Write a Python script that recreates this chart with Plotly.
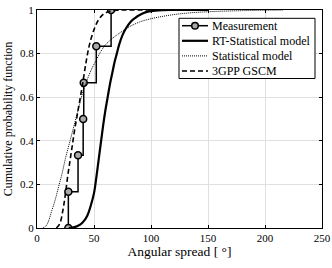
import plotly.graph_objects as go

# Measurement (empirical CDF, stairs)
meas_x = [27.5, 27.5, 36, 40.5, 41, 52, 65]
meas_y = [0, 1/6, 2/6, 3/6, 4/6, 5/6, 1.0]

# RT-Statistical model
rt_x = [28, 32, 36, 40, 44, 47, 50, 52, 54, 56, 58, 60, 62, 64, 66, 68, 70, 72, 75, 78, 82, 86, 90, 95, 100, 110, 120, 150]
rt_y = [0, 0.003, 0.01, 0.025, 0.055, 0.1, 0.16, 0.23, 0.31, 0.39, 0.47, 0.54, 0.6, 0.66, 0.71, 0.76, 0.8, 0.84, 0.885, 0.915, 0.945, 0.963, 0.977, 0.989, 0.995, 0.999, 1.0, 1.0]

# Statistical model
st_x = [5, 8, 10, 13, 16, 19, 22, 25, 28, 31, 34, 37, 40, 44, 48, 52, 56, 60, 65, 70, 80, 90, 100, 115, 130, 150, 180, 216]
st_y = [0, 0.01, 0.03, 0.08, 0.13, 0.19, 0.25, 0.32, 0.38, 0.44, 0.5, 0.56, 0.62, 0.68, 0.73, 0.77, 0.81, 0.84, 0.865, 0.885, 0.92, 0.945, 0.96, 0.975, 0.985, 0.992, 0.997, 1.0]

# 3GPP GSCM
gp_x = [17, 20, 23, 25, 27, 29, 31, 33, 35, 37, 40, 43, 46, 50, 54, 58, 63, 70, 80, 100]
gp_y = [0, 0.02, 0.09, 0.16, 0.24, 0.31, 0.38, 0.45, 0.51, 0.57, 0.66, 0.76, 0.84, 0.91, 0.955, 0.98, 0.993, 0.999, 1.0, 1.0]

series_names = ["Measurement", "RT-Statistical model", "Statistical model", "3GPP GSCM"]

x_ticks = [0, 50, 100, 150, 200, 250]
y_ticks = [0, 0.2, 0.4, 0.6, 0.8, 1]
y_tick_text = ["0", "0.2", "0.4", "0.6", "0.8", "1"]

FONT = "Liberation Serif, Times New Roman, Tinos, DejaVu Serif, serif"
W, H = 332, 268
ML, MR, MT, MB = 37, 10, 10, 40
PW, PH = W - ML - MR, H - MT - MB

styles = [
    dict(color="black", width=1.5),
    dict(color="black", width=2.2),
    dict(color="black", width=1, dash="1px,1px"),
    dict(color="black", width=1.6, dash="5px,3px"),
]
marker_style = dict(symbol="circle", size=7, color="#a8a8a8", line=dict(color="black", width=1.5))

fig = go.Figure()
fig.add_trace(go.Scatter(x=meas_x, y=meas_y, mode="lines+markers", name=series_names[0],
                         line=dict(**styles[0], shape="hv"), marker=marker_style, showlegend=False))
fig.add_trace(go.Scatter(x=rt_x, y=rt_y, mode="lines", name=series_names[1],
                         line=dict(**styles[1], shape="spline"), showlegend=False))
fig.add_trace(go.Scatter(x=st_x, y=st_y, mode="lines", name=series_names[2],
                         line=dict(**styles[2], shape="spline"), showlegend=False))
fig.add_trace(go.Scatter(x=gp_x, y=gp_y, mode="lines", name=series_names[3],
                         line=dict(**styles[3], shape="spline"), showlegend=False))

axis_common = dict(showline=True, linecolor="black", linewidth=1, mirror="ticks",
                   ticks="inside", ticklen=3, tickcolor="black", showgrid=True,
                   gridcolor="#e0e0e0", gridwidth=1, zeroline=False,
                   tickfont=dict(family=FONT, size=11, color="black"))

fig.update_xaxes(range=[0, 250], tickvals=x_ticks, ticktext=[str(v) for v in x_ticks],
                 title=dict(text="Angular spread [ °]", font=dict(family=FONT, size=13.5, color="black"),
                            standoff=0),
                 **axis_common)
fig.update_yaxes(range=[0, 1], tickvals=y_ticks, ticktext=y_tick_text,
                 title=dict(text="Cumulative probability function", font=dict(family=FONT, size=12, color="black"),
                            standoff=4),
                 **axis_common)


# --- manual legend (pixel layout converted to paper coords) ---
def px(x):
    return (x - ML) / PW


def py(y):
    return (MT + PH - y) / PH


shapes = [dict(type="rect", xref="paper", yref="paper", x0=px(179), x1=px(315), y0=py(78.5), y1=py(18.3),
               fillcolor="white", line=dict(color="black", width=1), layer="above")]
annotations = []
for i, name in enumerate(series_names):
    yc = 25.7 + 15.1 * i
    st = styles[i]
    shapes.append(dict(type="line", xref="paper", yref="paper", x0=px(182), x1=px(208),
                       y0=py(yc), y1=py(yc), layer="above",
                       line=dict(color=st["color"], width=st["width"], dash=st.get("dash", "solid"))))
    if i == 0:
        r = 3.3
        shapes.append(dict(type="circle", xref="paper", yref="paper",
                           x0=px(195 - r), x1=px(195 + r), y0=py(yc + r), y1=py(yc - r),
                           fillcolor=marker_style["color"], layer="above",
                           line=dict(color="black", width=1.5)))
    annotations.append(dict(xref="paper", yref="paper", x=px(210), y=py(yc), xanchor="left", yanchor="middle",
                            text=name, showarrow=False,
                            font=dict(family=FONT, size=12, color="black")))

fig.update_layout(
    width=W, height=H,
    margin=dict(l=ML, r=MR, t=MT, b=MB, autoexpand=False),
    plot_bgcolor="white", paper_bgcolor="white",
    font=dict(family=FONT, color="black"),
    shapes=shapes, annotations=annotations,
    showlegend=False,
)

fig.write_html("out.html", config={"displayModeBar": False},
               post_script="document.body.style.margin='0';document.body.style.padding='0';")
